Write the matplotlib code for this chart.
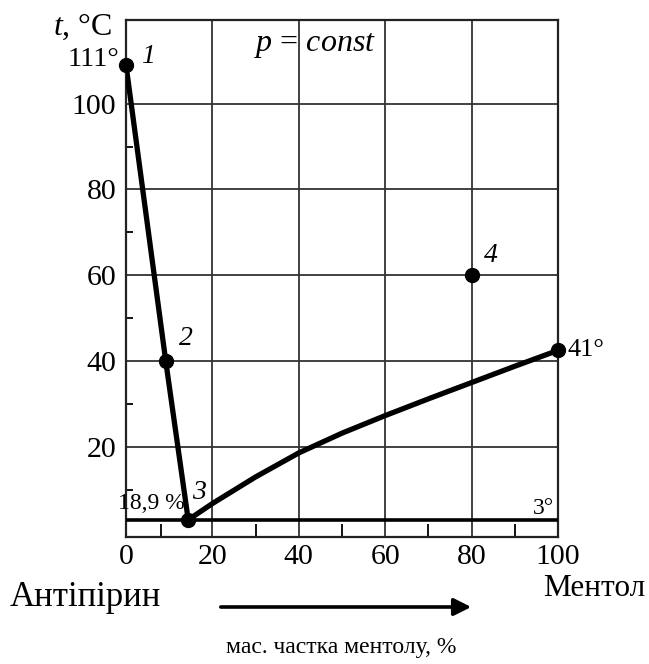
"""Phase diagram antipyrine - menthol (p = const)."""

import matplotlib.pyplot as plt

plt.rcParams.update({
    "font.family": "Liberation Serif",
    "mathtext.fontset": "custom",
    "mathtext.rm": "Liberation Serif",
    "mathtext.it": "Liberation Serif:italic",
})

# liquidus of antipyrine: 1 -> 2 -> 3 (eutectic)
left_x = [0, 9.2, 14.4]
left_t = [109, 40, 3]
# liquidus of menthol: 3 -> melting point of menthol
right_x = [14.4, 20, 30, 40, 50, 60, 70, 80, 90, 100]
right_t = [3, 6.8, 13, 18.6, 23.2, 27.3, 31.2, 35.0, 38.8, 42.5]
eutectic_t = 3

# marked points
pts_x = [0, 9.2, 14.4, 80, 100]
pts_t = [109, 40, 3, 60, 42.5]

x_major = [0, 20, 40, 60, 80, 100]
x_minor = [8, 30, 50, 70, 90]
y_major = [20, 40, 60, 80, 100]
y_minor = [10, 30, 50, 70, 90]

W, H = 649, 664
fig = plt.figure(figsize=(W / 100, H / 100), dpi=100)
ax = fig.add_axes([126 / W, 1 - 537 / H, 432 / W, 517 / H])

ax.set_xlim(0, 100)
ax.set_ylim(-1, 119.5)
ax.set_xticks(x_major)
ax.set_xticks(x_minor, minor=True)
ax.set_yticks(y_major)
ax.set_yticks(y_minor, minor=True)
ax.tick_params(which="major", length=0, labelsize=21.5, colors="black")
ax.tick_params(axis="x", which="major", pad=5)
ax.tick_params(axis="y", which="major", pad=7)
ax.tick_params(axis="x", which="minor", direction="in", length=9.4, width=1.3)
ax.tick_params(axis="y", which="minor", direction="in", length=5, width=1.3)
ax.grid(True, which="major", color="#333333", lw=1.3)
for s in ax.spines.values():
    s.set_linewidth(1.6)
    s.set_color("#222222")

ax.axhline(eutectic_t, color="black", lw=2.6, zorder=3)
ax.plot(left_x, left_t, color="black", lw=3.8, solid_capstyle="round", zorder=4)
ax.plot(right_x, right_t, color="black", lw=3.8, solid_capstyle="round",
        solid_joinstyle="round", zorder=4)
ax.plot(pts_x, pts_t, "o", color="black", ms=10, zorder=5, clip_on=False)

num_kw = dict(textcoords="offset pixels", fontsize=20, fontstyle="italic",
              ha="center", va="center", annotation_clip=False)
ax.annotate("1", (pts_x[0], pts_t[0]), xytext=(22, 9), **num_kw)
ax.annotate("2", (pts_x[1], pts_t[1]), xytext=(20, 23), **num_kw)
ax.annotate("3", (pts_x[2], pts_t[2]), xytext=(11, 27), **num_kw)
ax.annotate("4", (pts_x[3], pts_t[3]), xytext=(19, 20), **num_kw)

lbl_kw = dict(textcoords="offset pixels", va="center", annotation_clip=False)
ax.annotate("111°", (pts_x[0], pts_t[0]), xytext=(-7, 6), ha="right", fontsize=20.5, **lbl_kw)
ax.annotate("41°", (pts_x[4], pts_t[4]), xytext=(10, 0), ha="left", fontsize=19, **lbl_kw)
ax.annotate("18,9 %", (pts_x[2], pts_t[2]), xytext=(-4, 16), ha="right", fontsize=17, **lbl_kw)
ax.annotate("3°", (100, eutectic_t), xytext=(-4, 11), ha="right", fontsize=17, **lbl_kw)

fig.text(112 / W, 1 - 27 / H, r"$t$, °C", ha="right", va="center", fontsize=23)
fig.text(254 / W, 1 - 45 / H, r"$p$ = $const$", ha="left", va="center", fontsize=23)

fig.text(10 / W, 1 - 597 / H, "Антіпірин", ha="left", va="center", fontsize=25)
fig.text(645 / W, 1 - 588 / H, "Ментол", ha="right", va="center", fontsize=22.5)
ax.annotate("", xy=(474, H - 607), xytext=(218, H - 607), xycoords="figure pixels",
            arrowprops=dict(arrowstyle="-|>", lw=2.6, color="black", mutation_scale=26))
fig.text(341 / W, 1 - 648 / H, "мас. частка ментолу, %", ha="center", va="center", fontsize=17)

fig.savefig("out.png", dpi=100)
